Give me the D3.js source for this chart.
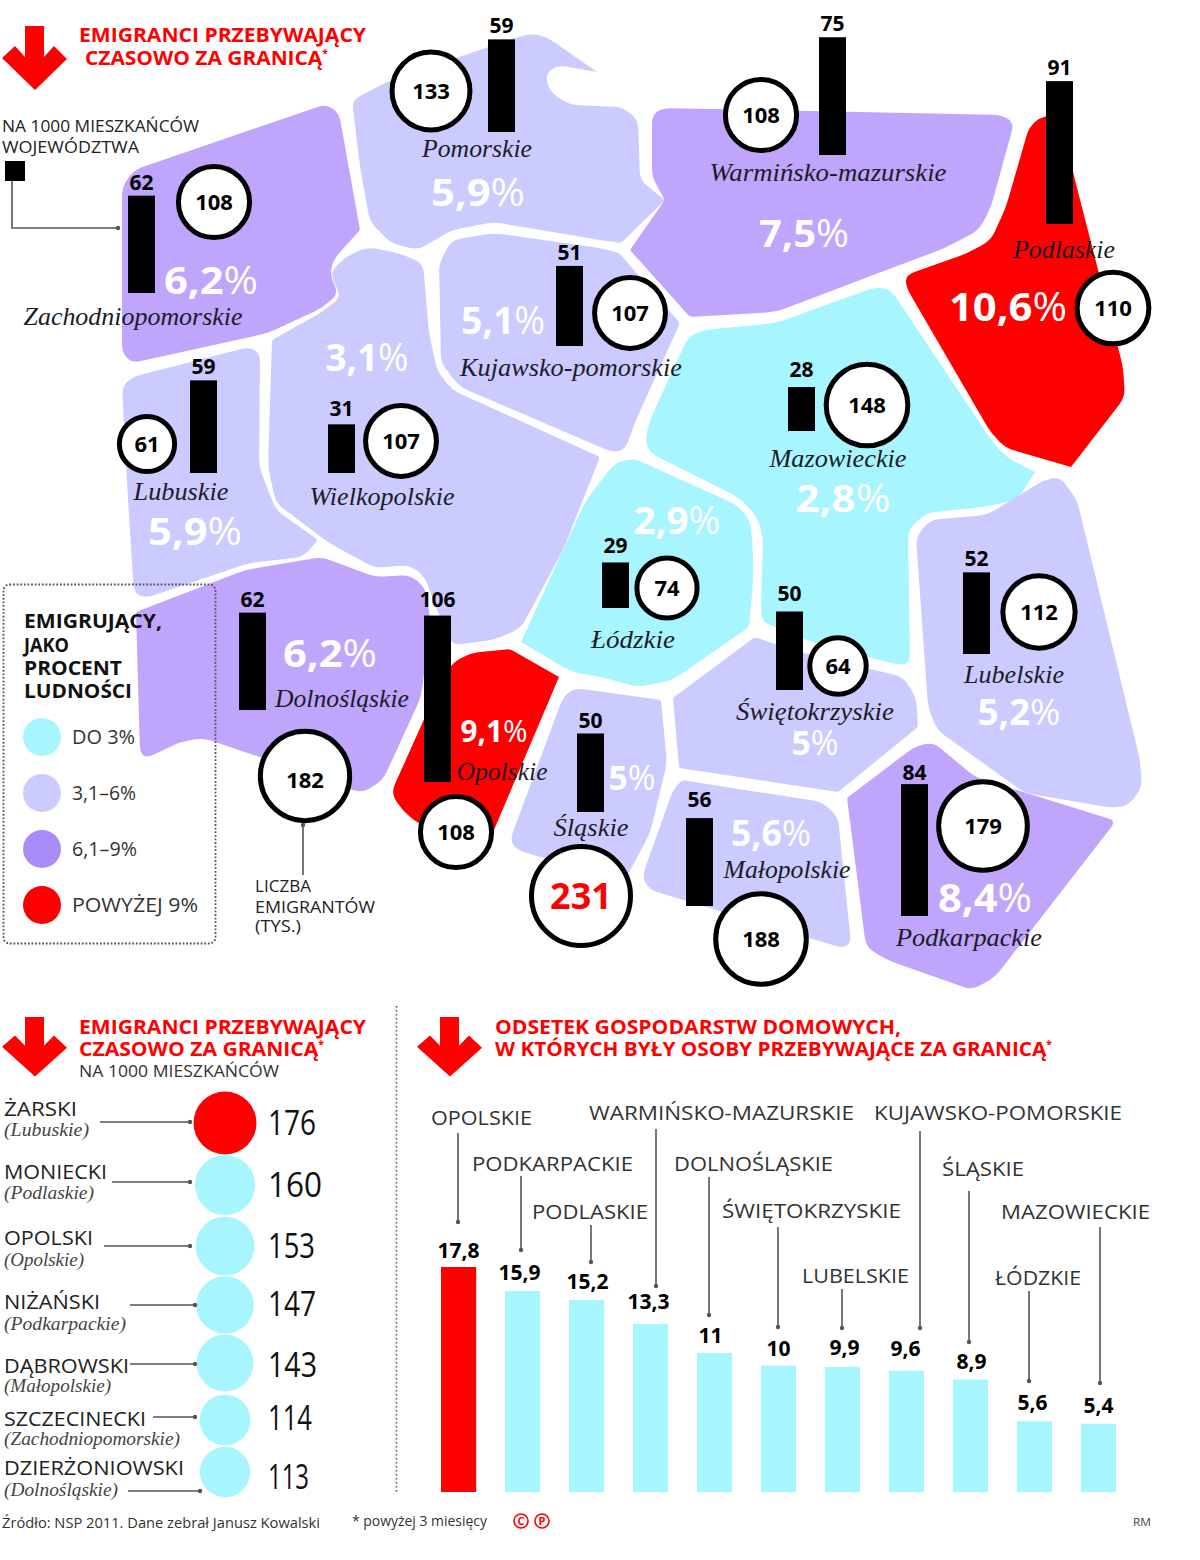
<!DOCTYPE html>
<html>
<head>
<meta charset="utf-8">
<script src="https://cdn.jsdelivr.net/npm/d3@7"></script>
<style>
  html, body { margin: 0; padding: 0; background: #fff; }
  svg { display: block; }
</style>
</head>
<body>
<svg id="chart" width="1200" height="1560"></svg>
<script>
// voivodeship values
const regions = ['Zachodniopomorskie', 'Pomorskie', 'Warmińsko-mazurskie', 'Podlaskie', 'Kujawsko-pomorskie', 'Wielkopolskie', 'Lubuskie', 'Mazowieckie', 'Łódzkie', 'Świętokrzyskie', 'Lubelskie', 'Dolnośląskie', 'Opolskie', 'Śląskie', 'Małopolskie', 'Podkarpackie'];
const sharePct = [6.2, 5.9, 7.5, 10.6, 5.1, 3.1, 5.9, 2.8, 2.9, 5, 5.2, 6.2, 9.1, 5, 5.6, 8.4];
const per1000 = [62, 59, 75, 91, 51, 31, 59, 28, 29, 50, 52, 62, 106, 50, 56, 84];
const thousands = [108, 133, 108, 110, 107, 107, 61, 148, 74, 64, 112, 182, 108, 231, 188, 179];

// legend
const legendLabels = ['DO 3%', '3,1–6%', '6,1–9%', 'POWYŻEJ 9%'];

// counties
const counties = ['ŻARSKI', 'MONIECKI', 'OPOLSKI', 'NIŻAŃSKI', 'DĄBROWSKI', 'SZCZECINECKI', 'DZIERŻONIOWSKI'];
const countyRegions = ['(Lubuskie)', '(Podlaskie)', '(Opolskie)', '(Podkarpackie)', '(Małopolskie)', '(Zachodniopomorskie)', '(Dolnośląskie)'];
const countyValues = [176, 160, 153, 147, 143, 114, 113];

// households
const households = ['OPOLSKIE', 'PODKARPACKIE', 'PODLASKIE', 'WARMIŃSKO-MAZURSKIE', 'DOLNOŚLĄSKIE', 'ŚWIĘTOKRZYSKIE', 'LUBELSKIE', 'KUJAWSKO-POMORSKIE', 'ŚLĄSKIE', 'ŁÓDZKIE', 'MAZOWIECKIE'];
const householdValues = [17.8, 15.9, 15.2, 13.3, 11, 10, 9.9, 9.6, 8.9, 5.6, 5.4];

// map outlines, hand traced (same order as regions), third number = corner radius when not the default
const outlines = [
  [[122,187],[134,170],[326,104],[339,113],[360,230,2],[333,260],[330,277],[339,293],[322,308],[268,333],[132,363],[122,353]],
  [[352,100],[391,80],[530,33,14],[547,37],[597,72,0],[557,65],[545,75],[550,92],[570,105],[623,107],[638,120],[640,180],[665,200,5],[621,243,3],[600,240],[494,222],[452,230],[418,250],[391,243],[370,222],[360,167]],
  [[652,115],[663,108],[1002,115],[1014,123],[991,207],[979,230],[945,248],[868,277],[776,312],[690,317,3],[630,250,2],[665,200,5],[652,177]],
  [[1029,127],[1042,116],[1060,116],[1075,180],[1123,367],[1125,397],[1071,467,0],[1006,448],[991,433],[906,287],[906,275],[968,253],[991,240],[1006,207]],
  [[439,263],[452,240],[494,233],[600,248],[619,253,3],[680,323,3],[636,420],[625,450],[612,452],[600,447],[460,387],[441,363]],
  [[272,340,2],[322,312],[341,297],[330,273],[345,257],[368,247],[398,253],[423,263],[429,333],[437,370],[452,390],[600,457,3],[563,550],[521,628],[494,640],[452,645],[433,600],[425,577],[410,565],[375,568],[329,543],[276,503],[268,467]],
  [[122,387],[132,377],[249,347],[260,353],[259,467],[276,510],[318,540,3],[303,557],[249,563],[146,598],[134,593],[128,500]],
  [[688,337],[703,330],[776,323],[876,287],[891,290],[991,440],[1006,457],[1035,472,0],[1017,500],[983,507],[926,513],[908,530],[910,663],[899,665],[815,643],[765,623],[761,617],[763,537],[757,517],[740,498],[650,453],[645,440],[650,420]],
  [[521,642,0],[586,500],[615,463],[633,458],[737,505],[750,520],[753,550],[753,583],[749,627,3],[673,680],[638,687],[601,677],[571,672]],
  [[673,698,2],[755,637,3],[792,650],[903,677],[916,697],[918,727,3],[838,792,2],[679,768,2]],
  [[930,520],[987,515],[1044,480],[1060,477],[1077,500],[1140,760],[1142,787],[1129,805],[1113,808],[1025,793],[937,730],[928,707],[916,537]],
  [[136,612,2],[245,570],[322,557],[375,577],[410,575],[425,587],[431,623],[421,697],[383,780],[364,792],[352,790],[260,757],[203,738],[180,742],[147,758],[140,753]],
  [[452,663],[471,653],[510,649,4],[559,677,0],[494,830,0],[420,825],[402,810],[391,793],[425,717]],
  [[563,697],[575,688],[661,700,3],[667,763],[650,833],[625,880],[544,858],[517,850],[510,840]],
  [[682,780,3],[822,802],[838,817],[851,943],[843,948],[650,890],[642,877],[673,790]],
  [[847,798,2],[914,747],[933,742],[975,777],[1113,820,3],[1113,825,3],[995,977],[972,990],[887,960],[866,947]]
];

// where each region's labels go: bar left/bottom, circle centre, percent and name label, nudges for tag and circle number
const regionLayout = [
  { bar: [128,293], circle: [214,202], pct: [211,294,94,38], name: [133,325,219] },
  { bar: [488,132], circle: [431,91], pct: [478,206,94,38], name: [477,157,110] },
  { bar: [819,155], circle: [761,115], pct: [804,247,90,38], name: [828,181,237] },
  { bar: [1046,224], circle: [1113,308], pct: [1008,321,118,40], name: [1064,258,102] },
  { bar: [556,346], circle: [630,313], pct: [503,334,84,38], name: [571,376,222] },
  { bar: [328,473], circle: [401,441], pct: [367,371,83,38], name: [382,505,145], tag: -2 },
  { bar: [190,473], circle: [147,444], pct: [195,545,94,38], name: [181,500,95] },
  { bar: [788,431], circle: [867,405], pct: [843,512,95,38], name: [838,467,137], tag: -4 },
  { bar: [602,608], circle: [667,588], pct: [677,534,87,38], name: [633,648,84], tag: -3 },
  { bar: [776,690], circle: [838,666], pct: [815,755,47,34], name: [815,720,158], tag: -5 },
  { bar: [963,654], circle: [1039,612], pct: [1019,725,83,36], name: [1014,683,100] },
  { bar: [239,710], circle: [305,776], pct: [330,667,94,38], name: [342,707,134], num: 4 },
  { bar: [424,782], circle: [456,832], pct: [494,742,67,31], name: [502,780,91], tag: -3 },
  { bar: [577,812], circle: [581,896], pct: [632,790,47,34], name: [591,836,75] },
  { bar: [686,906], circle: [761,939], pct: [771,846,80,36], name: [787,878,127], tag: -5 },
  { bar: [901,916], circle: [983,826], pct: [985,912,94,40], name: [969,946,146], tag: 2 }
];

const cyan = '#a6f5ff', lilac = '#cccbff', violet = '#bfa5fb', red = '#ff0000', legendViolet = '#a98cf8';
const sans = '"Open Sans", sans-serif';
const serif = '"Liberation Serif", serif';

const svg = d3.select('#chart');
const fillScale = d3.scaleThreshold().domain([3.1, 6.1, 9.1]).range([cyan, lilac, violet, red]);
const barHeight = d3.scaleLinear().domain([0, 100]).range([0, 157]);
const radius = d3.scalePow().exponent(0.41).domain([0, 231]).range([0, 52]);

// polygon with rounded corners
function roundedPath(points, r) {
  const p = d3.path();
  const n = points.length;
  const toward = (a, b, dist) => {
    const len = Math.hypot(b[0] - a[0], b[1] - a[1]);
    const t = Math.min(dist, len / 2) / len;
    return [a[0] + (b[0] - a[0]) * t, a[1] + (b[1] - a[1]) * t];
  };
  points.forEach((pt, i) => {
    const cr = pt[2] === undefined ? r : pt[2];
    const start = toward(pt, points[(i - 1 + n) % n], cr);
    const end = toward(pt, points[(i + 1) % n], cr);
    if (i === 0) p.moveTo(start[0], start[1]);
    else p.lineTo(start[0], start[1]);
    p.quadraticCurveTo(pt[0], pt[1], end[0], end[1]);
  });
  p.closePath();
  return p.toString();
}

// every text goes through here, width is optional and forces the measured length
function label(str, x, y, o = {}) {
  const t = svg.append('text')
    .attr('x', x)
    .attr('y', y)
    .attr('font-family', o.family || sans)
    .attr('font-size', o.size || 20)
    .attr('font-weight', o.weight || 400)
    .attr('font-style', o.italic ? 'italic' : 'normal')
    .attr('fill', o.fill || '#222')
    .attr('text-anchor', o.anchor || 'start')
    .text(str);
  if (o.width) t.attr('textLength', o.width).attr('lengthAdjust', 'spacingAndGlyphs');
  return t;
}

function leader(x1, y1, x2, y2) {
  svg.append('line')
    .attr('x1', x1).attr('y1', y1).attr('x2', x2).attr('y2', y2)
    .attr('stroke', '#555').attr('stroke-width', 1.6);
  svg.append('circle').attr('cx', x2).attr('cy', y2).attr('r', 2.2).attr('fill', '#555');
}

function arrow(x, y, sy) {
  svg.append('path')
    .attr('transform', `translate(${x},${y}) scale(1,${sy})`)
    .attr('fill', red)
    .attr('d', 'M23,0H42V31L52,20L65,33L33,64L0,32L13,20L23,31Z');
}

function heading(str, x, y, width) {
  return label(str, x, y, { size: 20, weight: 700, fill: red, width: width });
}

// --- map ---
svg.append('g').selectAll('path')
  .data(regions)
  .join('path')
  .attr('d', (d, i) => roundedPath(outlines[i], 9))
  .attr('fill', (d, i) => fillScale(sharePct[i]));

regions.forEach((name, i) => {
  const l = regionLayout[i];
  const pct = String(sharePct[i]).replace('.', ',');
  const t = label(null, l.pct[0], l.pct[1], { size: l.pct[3], weight: 700, fill: '#fff', anchor: 'middle', width: l.pct[2] });
  t.append('tspan').text(pct);
  t.append('tspan').attr('font-weight', 400).text('%');

  label(name, l.name[0], l.name[1], { family: serif, size: 26, italic: true, fill: '#1c1c28', anchor: 'middle', width: l.name[2] });

  const h = barHeight(per1000[i]);
  svg.append('rect')
    .attr('x', l.bar[0]).attr('y', l.bar[1] - h)
    .attr('width', 27).attr('height', h)
    .attr('fill', '#000');
  label(per1000[i], l.bar[0] + 13.5, l.bar[1] - h - 6 + (l.tag || 0), { size: 21, weight: 700, fill: '#000', anchor: 'middle' });

  const big = thousands[i] === d3.max(thousands);
  svg.append('circle')
    .attr('cx', l.circle[0]).attr('cy', l.circle[1])
    .attr('r', radius(thousands[i]) - 2.5)
    .attr('fill', '#fff').attr('stroke', '#000').attr('stroke-width', 5);
  label(thousands[i], l.circle[0], l.circle[1] + (big ? 13 : 8) + (l.num || 0), {
    size: big ? 36 : 22, weight: 700, fill: big ? red : '#000', anchor: 'middle'
  });
});

// --- top title and notes ---
arrow(2, 26, 1);
heading('EMIGRANCI PRZEBYWAJĄCY', 79, 42, 287);
const t1 = heading(null, 85, 65, 243);
t1.append('tspan').text('CZASOWO ZA GRANICĄ');
t1.append('tspan').attr('font-size', 10).attr('dy', -8).text('*');

label('NA 1000 MIESZKAŃCÓW', 2, 132, { size: 17, width: 197 });
label('WOJEWÓDZTWA', 2, 153, { size: 17, width: 137 });
svg.append('rect').attr('x', 5).attr('y', 161).attr('width', 20).attr('height', 20).attr('fill', '#000');
svg.append('path').attr('d', 'M12,181V228H118').attr('fill', 'none').attr('stroke', '#555').attr('stroke-width', 1.6);
svg.append('circle').attr('cx', 118).attr('cy', 228).attr('r', 2.2).attr('fill', '#555');

// --- legend box ---
svg.append('rect')
  .attr('x', 3.5).attr('y', 584.5).attr('width', 212).attr('height', 359).attr('rx', 6)
  .attr('fill', 'none').attr('stroke', '#555').attr('stroke-width', 1.8).attr('stroke-dasharray', '1.8 1.8');
['EMIGRUJĄCY,', 'JAKO', 'PROCENT', 'LUDNOŚCI'].forEach((s, i) => {
  label(s, 24, [628, 652, 675, 698][i], { size: 20, weight: 700, fill: '#111', width: [138, 45, 98, 108][i] });
});
const legendY = d3.scalePoint().domain(legendLabels).range([737, 905]);
const legendFill = [cyan, lilac, legendViolet, red];
const legendWidth = [63, 64, 65, 126];
legendLabels.forEach((s, i) => {
  svg.append('circle').attr('cx', 42).attr('cy', legendY(s)).attr('r', 19).attr('fill', legendFill[i]);
  label(s, 72, legendY(s) + 7, { size: 20, fill: '#333', width: legendWidth[i] });
});

// note under the Dolnośląskie circle
leader(303, 875, 303, 825);
label('LICZBA', 255, 892, { size: 16, width: 56 });
label('EMIGRANTÓW', 255, 913, { size: 16, width: 120 });
label('(TYS.)', 255, 932, { size: 16, width: 46 });

// --- counties ---
arrow(2, 1017, 0.93);
heading('EMIGRANCI PRZEBYWAJĄCY', 79, 1034, 287);
const t2 = heading(null, 79, 1056, 245);
t2.append('tspan').text('CZASOWO ZA GRANICĄ');
t2.append('tspan').attr('font-size', 10).attr('dy', -8).text('*');
label('NA 1000 MIESZKAŃCÓW', 79, 1077, { size: 17, fill: '#333', width: 200 });

const countyRadius = d3.scaleSqrt().domain([0, 176]).range([0, 31.5]);
const countyLayout = [
  { cy: 1123, name: [1116, 73], sub: [1136, 85], value: [1135, 48], line: [100, 190, 1122] },
  { cy: 1185, name: [1179, 103], sub: [1199, 90], value: [1197, 54], line: [112, 190, 1182] },
  { cy: 1246, name: [1245, 89], sub: [1266, 80], value: [1258, 47], line: [104, 190, 1246] },
  { cy: 1305, name: [1309, 96], sub: [1330, 122], value: [1316, 48], line: [130, 195, 1305] },
  { cy: 1363, name: [1373, 125], sub: [1392, 107], value: [1377, 49], line: [130, 195, 1364] },
  { cy: 1420, name: [1426, 142], sub: [1445, 176], value: [1430, 44], line: [153, 195, 1417] },
  { cy: 1472, name: [1475, 180], sub: [1496, 114], value: [1489, 41], line: [128, 200, 1491] }
];
counties.forEach((c, i) => {
  const l = countyLayout[i];
  svg.append('circle')
    .attr('cx', 225).attr('cy', l.cy)
    .attr('r', countyRadius(countyValues[i]))
    .attr('fill', i === 0 ? red : cyan);
  label(c, 4, l.name[0], { size: 20, fill: '#222', width: l.name[1] });
  label(countyRegions[i], 4, l.sub[0], { family: serif, size: 19, italic: true, fill: '#444', width: l.sub[1] });
  label(countyValues[i], 268, l.value[0], { size: 34, fill: '#111', width: l.value[1] });
  leader(l.line[0], l.line[2], l.line[1], l.line[2]);
});

// separator
svg.append('line')
  .attr('x1', 396.5).attr('y1', 1006).attr('x2', 396.5).attr('y2', 1492)
  .attr('stroke', '#555').attr('stroke-width', 1.6).attr('stroke-dasharray', '1.6 2.4');

// --- households ---
arrow(417, 1017, 0.93);
heading('ODSETEK GOSPODARSTW DOMOWYCH,', 495, 1034, 406);
const t3 = heading(null, 495, 1056, 557);
t3.append('tspan').text('W KTÓRYCH BYŁY OSOBY PRZEBYWAJĄCE ZA GRANICĄ');
t3.append('tspan').attr('font-size', 10).attr('dy', -8).text('*');

const x = d3.scaleBand().domain(households).range([441, 1116]).paddingInner(0.45);
const y = d3.scaleLinear().domain([0, 17.8]).range([1492, 1267]);

svg.append('g').selectAll('rect')
  .data(households)
  .join('rect')
  .attr('x', d => x(d))
  .attr('y', (d, i) => y(householdValues[i]))
  .attr('width', x.bandwidth())
  .attr('height', (d, i) => y(0) - y(householdValues[i]))
  .attr('fill', (d, i) => i === 0 ? red : cyan);

// text left / width / baseline, leader x / top / bottom, value nudge x / y
const householdLabels = [
  [431, 101, 1125, 458, 1133, 1222, 0, -9],
  [472, 161, 1171, 521, 1176, 1250, -3, -11],
  [532, 116, 1219, 591, 1225, 1262, 1, -11],
  [589, 265, 1120, 656, 1129, 1286, -2, -15],
  [674, 159, 1171, 709, 1177, 1315, -4, -10],
  [722, 179, 1218, 778, 1227, 1327, 0, -10],
  [802, 107, 1283, 842, 1289, 1328, 2, -12],
  [874, 248, 1120, 920, 1131, 1328, -1, -15],
  [942, 82, 1176, 969, 1191, 1342, 1, -11],
  [995, 86, 1285, 1029, 1291, 1381, -2, -11],
  [1001, 149, 1219, 1100, 1227, 1383, 0, -11]
];
households.forEach((h, i) => {
  const l = householdLabels[i];
  label(h, l[0], l[2], { size: 20, fill: '#333', width: l[1] });
  leader(l[3], l[4], l[3], l[5]);
  label(String(householdValues[i]).replace('.', ','), x(h) + x.bandwidth() / 2 + l[6], y(householdValues[i]) + l[7], {
    size: 21, weight: 700, fill: '#000', anchor: 'middle'
  });
});

// --- footer ---
label('Źródło: NSP 2011. Dane zebrał Janusz Kowalski', 2, 1528, { size: 14, fill: '#333', width: 318 });
label('* powyżej 3 miesięcy', 352, 1526, { size: 14, fill: '#333', width: 135 });
[['C', 521], ['P', 542]].forEach(d => {
  svg.append('circle').attr('cx', d[1]).attr('cy', 1521).attr('r', 7).attr('fill', 'none').attr('stroke', red).attr('stroke-width', 1.6);
  label(d[0], d[1], 1525, { size: 11, weight: 700, fill: red, anchor: 'middle' });
});
label('RM', 1133, 1526, { size: 11, fill: '#444', width: 18 });
</script>
</body>
</html>
